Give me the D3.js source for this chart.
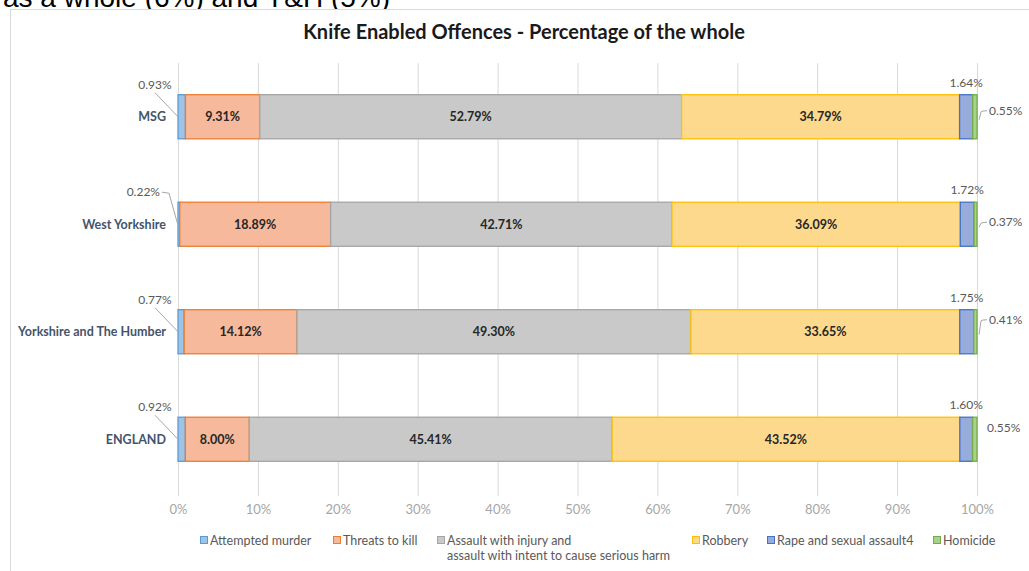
<!DOCTYPE html>
<html>
<head>
<meta charset="utf-8">
<script src="https://cdn.jsdelivr.net/npm/d3@7"></script>
<style>
  body { margin: 0; background: #fff; }
  svg { display: block; font-family: Lato, "Open Sans", sans-serif; }
</style>
</head>
<body>
<script>
var W = 1029, H = 571;

// data
var categories = ["MSG", "West Yorkshire", "Yorkshire and The Humber", "ENGLAND"];
var seriesNames = ["Attempted murder", "Threats to kill",
  "Assault with injury and|assault with intent to cause serious harm",
  "Robbery", "Rape and sexual assault4", "Homicide"];
var attemptedMurder = [0.93, 0.22, 0.77, 0.92];
var threatsToKill = [9.31, 18.89, 14.12, 8.00];
var assault = [52.79, 42.71, 49.30, 45.41];
var robbery = [34.79, 36.09, 33.65, 43.52];
var rape = [1.64, 1.72, 1.75, 1.60];
var homicide = [0.55, 0.37, 0.41, 0.55];
var xTicks = [0, 10, 20, 30, 40, 50, 60, 70, 80, 90, 100];

var fills = ["#9dc3e6", "#f6b99b", "#c9c9c9", "#fdd98e", "#98acdc", "#a9d18e"];
var strokes = ["#5b9bd5", "#ed7d31", "#a5a5a5", "#ffc000", "#4472c4", "#70ad47"];
var legendX = [200, 333, 437, 692, 767, 933];

var values = [attemptedMurder, threatsToKill, assault, robbery, rape, homicide];
var rows = categories.map(function(c, i) {
  var o = { cat: c };
  values.forEach(function(v, k) { o["s" + k] = v[i]; });
  return o;
});
var keys = values.map(function(v, k) { return "s" + k; });
var stacked = d3.stack().keys(keys)(rows);

var svg = d3.select("body").append("svg").attr("width", W).attr("height", H);

// cut-off sentence above the chart
svg.append("text").attr("x", 3).attr("y", 7)
  .style("font-family", "'Liberation Sans', Arial, sans-serif")
  .style("font-size", "28px").style("fill", "#000")
  .text("as a whole (6%) and Y&H (5%)");

svg.append("rect").attr("x", 10.5).attr("y", 9.5).attr("width", W).attr("height", H)
  .style("fill", "#fff").style("stroke", "#d9d9d9");

svg.append("text").attr("x", 524).attr("y", 39).attr("text-anchor", "middle")
  .style("font-weight", "bold").style("font-size", "20px").style("fill", "#1a1a1a")
  .text("Knife Enabled Offences - Percentage of the whole");

var xScale = d3.scaleLinear().domain([0, 100]).range([178, 977]);
var yScale = d3.scaleBand().domain(categories).range([63, 493]).paddingInner(0.59).paddingOuter(0.295);

// gridlines
svg.append("g").selectAll("line").data(xTicks).enter().append("line")
  .attr("x1", function(d) { return xScale(d) + 0.5; })
  .attr("x2", function(d) { return xScale(d) + 0.5; })
  .attr("y1", 63).attr("y2", 496)
  .style("stroke", "#d9d9d9");

var xAxis = d3.axisBottom(xScale).tickValues(xTicks).tickSize(0).tickPadding(0)
  .tickFormat(function(d) { return d + "%"; });
var gx = svg.append("g").attr("transform", "translate(0,505)").call(xAxis);
gx.select(".domain").remove();
gx.selectAll("text").style("font-family", "Lato, sans-serif").style("font-size", "13px").style("fill", "#a6a6a6");

// category labels
svg.append("g").selectAll("text").data(categories).enter().append("text")
  .attr("x", 166).attr("y", function(d) { return yScale(d) + yScale.bandwidth() / 2 + 4.5; })
  .attr("text-anchor", "end")
  .style("font-weight", "bold").style("font-size", "12.5px").style("fill", "#44546a")
  .text(function(d) { return d; });

// bars
var layers = svg.append("g").selectAll("g").data(stacked).enter().append("g")
  .style("fill", function(d, i) { return fills[i]; })
  .style("stroke", function(d, i) { return strokes[i]; })
  .style("stroke-width", 1.3);
layers.selectAll("rect").data(function(d) { return d; }).enter().append("rect")
  .attr("x", function(d) { return xScale(d[0]); })
  .attr("y", function(d) { return yScale(d.data.cat); })
  .attr("width", function(d) { return Math.max(0.5, xScale(d[1]) - xScale(d[0])); })
  .attr("height", yScale.bandwidth());

// labels inside bars
[1, 2, 3].forEach(function(k) {
  svg.append("g").selectAll("text").data(stacked[k]).enter().append("text")
    .attr("x", function(d) { return (xScale(d[0]) + xScale(d[1])) / 2; })
    .attr("y", function(d) { return yScale(d.data.cat) + yScale.bandwidth() / 2 + 4.5; })
    .attr("text-anchor", "middle")
    .style("font-weight", "bold").style("font-size", "12.5px").style("fill", "#262626")
    .text(function(d) { return (d[1] - d[0]).toFixed(2) + "%"; });
});

var outer = svg.append("g").style("font-size", "12px").style("fill", "#595959");
var leaders = svg.append("g").style("fill", "none").style("stroke", "#a6a6a6").style("stroke-width", 1);

// attempted murder: label up-left with a leader line
stacked[0].forEach(function(d) {
  var top = yScale(d.data.cat), mid = top + yScale.bandwidth() / 2, x0 = xScale(0);
  var v = d[1] - d[0];
  if (v < 0.5) {
    outer.append("text").attr("x", x0 - 18).attr("y", top - 6).attr("text-anchor", "end").text(v.toFixed(2) + "%");
    leaders.append("path").attr("d", "M" + (x0 - 16) + "," + (top - 10) + "L" + (x0 - 9) + "," + (top - 9) + "L" + x0 + "," + (mid + 1));
  } else {
    outer.append("text").attr("x", x0 - 23).attr("y", top - 6).attr("text-anchor", "middle").text(v.toFixed(2) + "%");
    leaders.append("path").attr("d", "M" + (x0 - 23) + "," + (top - 2) + "L" + x0 + "," + mid);
  }
});

// rape: label above the segment
stacked[4].forEach(function(d) {
  var top = yScale(d.data.cat);
  outer.append("text").attr("x", (xScale(d[0]) + xScale(d[1])) / 2).attr("y", top - 8)
    .attr("text-anchor", "middle").text((d[1] - d[0]).toFixed(2) + "%");
});

// homicide: label to the right
var homDy = [-6, -2, -12, -11];
stacked[5].forEach(function(d, i) {
  var mid = yScale(d.data.cat) + yScale.bandwidth() / 2, x1 = xScale(d[1]);
  var ly = mid + homDy[i];
  outer.append("text").attr("x", i === 3 ? x1 + 10 : x1 + 12).attr("y", ly + 4).text((d[1] - d[0]).toFixed(2) + "%");
  if (i < 3) {
    leaders.append("path").attr("d", "M" + (x1 + 2) + "," + (mid + 3) + "L" + (x1 + 4) + "," + (ly + 1) + "Q" + (x1 + 5) + "," + (ly) + " " + (x1 + 10) + "," + ly);
  }
});

// legend
var leg = svg.append("g").style("font-size", "12.5px").style("fill", "#595959");
seriesNames.forEach(function(name, i) {
  var lx = legendX[i];
  leg.append("rect").attr("x", lx + 0.5).attr("y", 536.5).attr("width", 7).attr("height", 7)
    .style("fill", fills[i]).style("stroke", strokes[i]);
  var t = leg.append("text").attr("x", lx + 10).attr("y", 544.5);
  name.split("|").forEach(function(part, j) {
    t.append("tspan").attr("x", lx + 10).attr("dy", j === 0 ? 0 : 15).text(part);
  });
});
</script>
</body>
</html>
